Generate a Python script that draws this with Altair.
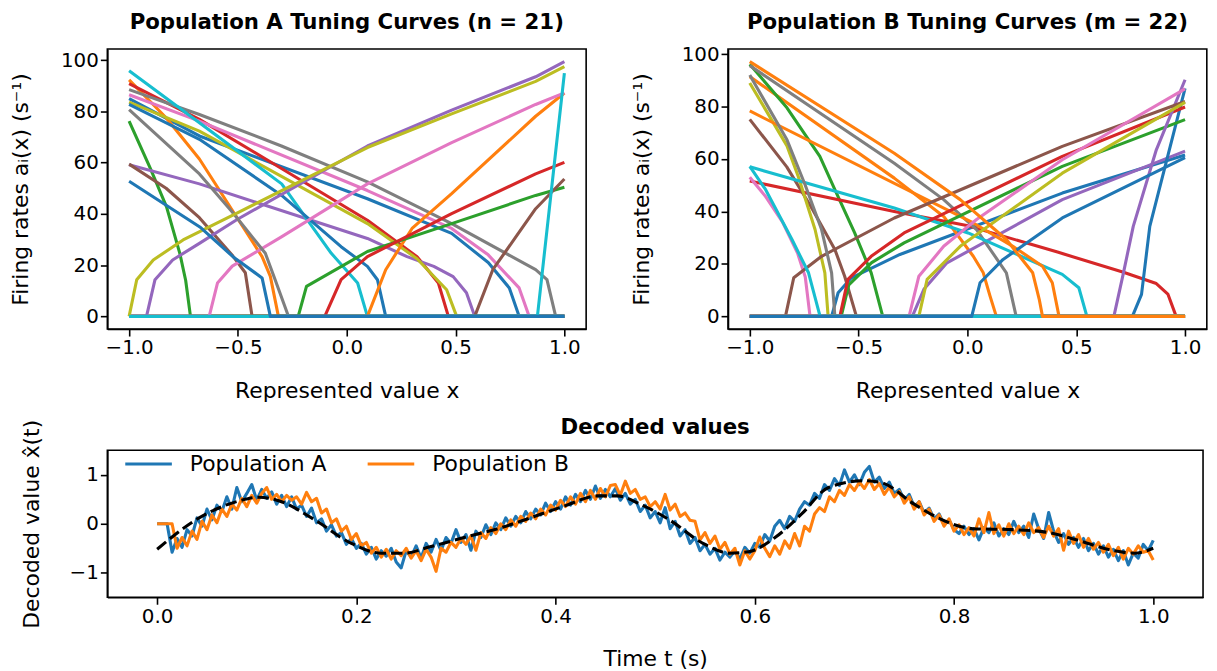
import altair as alt
import pandas as pd

TAB10 = ["#1f77b4", "#ff7f0e", "#2ca02c", "#d62728", "#9467bd",
         "#8c564b", "#e377c2", "#7f7f7f", "#bcbd22", "#17becf"]
FONT = "DejaVu Sans"
TICK_FS = 20
LABEL_FS = 22
TITLE_FS = 21.4

# ---------------- Population A tuning curves (drawing order = tab10 cycle) ----
A00 = [(-1, 85.0), (-0.677, 70.4), (0.095, 45.9), (0.482, 32.4), (0.65, 21.0), (0.747, 11.1), (0.792, 0), (1, 0)]
A01 = [(-1, 92.3), (-0.83, 77.5), (-0.677, 61.4), (-0.526, 41.4), (-0.389, 23.3), (-0.351, 15.6), (-0.314, 0), (1, 0)]
A02 = [(-1, 76.2), (-0.904, 58.0), (-0.828, 42.7), (-0.767, 24.6), (-0.74, 14.0), (-0.718, 0), (1, 0)]
A03 = [(-1, 90.8), (-0.677, 76.9), (-0.3, 57.7), (0.095, 37.5), (0.323, 23.3), (0.421, 13.0), (0.467, 0), (1, 0)]
A04 = [(-1, 59.2), (-0.677, 51.7), (0.095, 30.4), (0.277, 23.3), (0.4, 19.5), (0.489, 15.5), (0.55, 9.2), (0.588, 0), (1, 0)]
A05 = [(-1, 59.4), (-0.83, 50.0), (-0.677, 38.5), (-0.523, 23.5), (-0.466, 17.0), (-0.435, 0), (1, 0)]
A06 = [(-1, 86.5), (-0.677, 76.2), (0.095, 49.1), (0.482, 34.3), (0.65, 24.0), (0.792, 11.1), (0.838, 0), (1, 0)]
A07 = [(-1, 88.5), (-0.677, 78.8), (-0.3, 66.5), (0.095, 52.5), (0.482, 36.2), (0.868, 18.2), (0.92, 14.3), (0.96, 0), (1, 0)]
A08 = [(-1, 83.6), (-0.677, 72.3), (0.095, 36.2), (0.323, 22.5), (0.459, 10.4), (0.505, 0), (1, 0)]
A09 = [(-1, 95.9), (-0.677, 75.6), (-0.299, 51.7), (-0.071, 24.6), (0.05, 13.0), (0.095, 0), (1, 0)]
A10 = [(-1, 82.7), (-0.677, 69.1), (-0.299, 47.2), (-0.026, 27.2), (0.095, 19.5), (0.141, 14.3), (0.179, 0), (1, 0)]
A11 = [(-1, 0), (0.095, 0), (0.179, 18.2), (0.3, 34.3), (0.482, 47.9), (0.868, 78.1), (1, 87.2)]
A12 = [(-1, 0), (-0.223, 0), (-0.185, 11.7), (0.095, 25.3), (0.482, 36.2), (0.868, 47.2), (1, 50.4)]
A13 = [(-1, 0), (-0.101, 0), (-0.026, 14.3), (0.095, 23.3), (0.482, 40.1), (0.868, 55.6), (1, 60.1)]
A14 = [(-1, 0), (-0.92, 0), (-0.881, 14.3), (-0.8, 22.0), (-0.677, 28.5), (-0.5, 38.0), (0.095, 66.5), (0.482, 80.5), (0.868, 93.5), (1, 99.4)]
A15 = [(-1, 0), (0.588, 0), (0.671, 18.2), (0.777, 31.0), (0.868, 42.0), (1, 53.6)]
A16 = [(-1, 0), (-0.632, 0), (-0.594, 13.0), (-0.526, 19.6), (-0.3, 31.0), (0.095, 51.7), (0.482, 67.8), (0.868, 82.7), (1, 87.2)]
A17 = [(-1, 80.7), (-0.677, 55.6), (-0.526, 40.7), (-0.374, 24.6), (-0.329, 14.3), (-0.268, 0), (1, 0)]
A18 = [(-1, 0), (-0.965, 14.3), (-0.889, 22.0), (-0.752, 29.8), (-0.5, 40.5), (0.095, 65.9), (0.482, 79.0), (0.868, 91.7), (1, 97.5)]
A19 = [(-1, 0), (0.876, 0), (1, 94.9)]
A20 = [(-1, 52.7), (-0.675, 34.9), (-0.523, 23.3), (-0.389, 15.0), (-0.351, 0), (1, 0)]
POP_A = [A00, A01, A02, A03, A04, A05, A06, A07, A08, A09, A10,
         A11, A12, A13, A14, A15, A16, A17, A18, A19, A20]

# ---------------- Population B tuning curves ----------------
B00 = [(-1, 0), (-0.624, 0), (-0.594, 9.0), (-0.533, 14.7), (-0.31, 23.6), (0.436, 47.0), (1, 61.5)]
B01 = [(-1, 91.4), (-0.336, 52.7), (-0.109, 38.1), (0.027, 22.9), (0.073, 16.6), (0.103, 8.0), (0.133, 0), (1, 0)]
B02 = [(-1, 96.1), (-0.829, 79.5), (-0.678, 61.0), (-0.609, 48.3), (-0.518, 31.8), (-0.442, 16.6), (-0.389, 0), (1, 0)]
B03 = [(-1, 51.6), (-0.336, 40.0), (0.003, 34.5), (0.414, 24.5), (0.717, 16.8), (0.868, 12.5), (0.921, 8.5), (0.959, 0), (1, 0)]
B04 = [(-1, 0), (-0.253, 0), (-0.2, 10.3), (-0.094, 20.4), (0.436, 44.5), (1, 63.0)]
B05 = [(-1, 75.1), (-0.83, 57.0), (-0.72, 42.0), (-0.609, 25.5), (-0.564, 15.3), (-0.51, 0), (1, 0)]
B06 = [(-1, 53.0), (-0.93, 46.0), (-0.85, 36.0), (-0.78, 24.0), (-0.745, 15.0), (-0.723, 0), (1, 0)]
B07 = [(-1, 95.6), (-0.336, 58.4), (-0.109, 44.5), (0.042, 33.1), (0.179, 16.6), (0.224, 0), (1, 0)]
B08 = [(-1, 89.0), (-0.829, 65.0), (-0.776, 53.0), (-0.7, 33.1), (-0.655, 16.6), (-0.64, 0), (1, 0)]
B09 = [(-1, 57.0), (-0.336, 41.3), (0.003, 31.8), (0.436, 16.0), (0.512, 10.9), (0.549, 0), (1, 0)]
B10 = [(-1, 0), (0.758, 0), (0.8, 8.4), (0.838, 34.3), (1, 86.9)]
B11 = [(-1, 78.3), (0.027, 35.6), (0.209, 26.7), (0.345, 19.1), (0.39, 12.8), (0.421, 0), (1, 0)]
B12 = [(-1, 0), (-0.58, 0), (-0.545, 12.0), (-0.44, 20.5), (-0.291, 28.0), (0.436, 57.2), (1, 75.0)]
B13 = [(-1, 0), (-0.586, 0), (-0.549, 14.1), (-0.442, 22.9), (-0.291, 31.8), (0.436, 61.0), (1, 79.8)]
B14 = [(-1, 0), (0.673, 0), (0.717, 16.6), (0.762, 34.3), (0.868, 63.5), (1, 90.2)]
B15 = [(-1, 0), (-0.836, 0), (-0.798, 14.7), (-0.67, 22.9), (-0.336, 37.5), (0.436, 64.8), (1, 81.9)]
B16 = [(-1, 0), (-0.268, 0), (-0.223, 15.3), (-0.109, 26.7), (0.042, 36.9), (0.436, 59.7), (1, 86.7)]
B17 = [(-1, 92.0), (-0.829, 67.3), (-0.745, 50.0), (-0.67, 33.1), (-0.624, 16.6), (-0.609, 0), (1, 0)]
B18 = [(-1, 0), (-0.223, 0), (-0.185, 14.1), (-0.033, 26.7), (0.436, 54.6), (1, 81.6)]
B19 = [(-1, 57.2), (-0.927, 48.3), (-0.806, 29.3), (-0.73, 16.6), (-0.677, 0), (1, 0)]
B20 = [(-1, 0), (0.02, 0), (0.058, 12.8), (0.164, 21.7), (0.436, 37.5), (1, 60.5)]
B21 = [(-1, 97.1), (-0.336, 62.2), (-0.033, 44.5), (0.179, 29.3), (0.3, 16.6), (0.33, 6.5), (0.345, 0), (1, 0)]
POP_B = [B00, B01, B02, B03, B04, B05, B06, B07, B08, B09, B10,
         B11, B12, B13, B14, B15, B16, B17, B18, B19, B20, B21]

# ---------------- Decoded values ----------------
T_STEP = 0.005
DEC_A = [0, 0, 0, -0.58, -0.30, -0.48, -0.12, -0.25, 0.12, -0.05,
         0.30, 0.08, 0.38, 0.25, 0.55, 0.30, 0.74, 0.45, 0.62, 0.80,
         0.48, 0.70, 0.52, 0.65, 0.40, 0.58, 0.35, 0.55, 0.30, 0.38,
         0.15, 0.32, 0.02, 0.10, -0.15, -0.02, -0.25, -0.18, -0.42, -0.30,
         -0.50, -0.40, -0.62, -0.48, -0.72, -0.55, -0.66, -0.50, -0.78, -0.90,
         -0.55, -0.68, -0.45, -0.70, -0.40, -0.58, -0.32, -0.55, -0.28, -0.40,
         -0.12, -0.38, -0.22, -0.54, -0.15, -0.28, -0.02, -0.22, 0.02, -0.12,
         0.12, -0.05, 0.15, 0.02, 0.25, 0.10, 0.30, 0.18, 0.42, 0.25,
         0.45, 0.30, 0.55, 0.38, 0.60, 0.45, 0.68, 0.50, 0.77, 0.52,
         0.70, 0.55, 0.72, 0.48, 0.62, 0.40, 0.50, 0.25, 0.38, 0.12,
         0.25, 0.02, 0.33, -0.10, 0.05, -0.25, -0.12, -0.40, -0.28, -0.55,
         -0.42, -0.62, -0.50, -0.74, -0.58, -0.68, -0.55, -0.72, -0.48, -0.60,
         -0.40, -0.48, -0.22, -0.35, -0.05, 0.07, -0.10, 0.15, 0.05, 0.30,
         0.45, 0.38, 0.62, 0.52, 0.80, 0.68, 0.92, 0.78, 1.10, 0.85,
         1.00, 0.80, 1.05, 1.17, 0.85, 0.95, 0.72, 0.85, 0.62, 0.70,
         0.48, 0.60, 0.35, 0.45, 0.22, 0.32, 0.10, 0.20, -0.02, 0.08,
         -0.12, -0.20, -0.05, -0.22, -0.10, -0.33, -0.08, -0.18, 0.02, -0.25,
         -0.10, -0.22, 0.05, -0.18, -0.05, -0.28, 0.20, -0.10, -0.30, 0.23,
         -0.15, -0.38, -0.20, -0.42, -0.28, -0.48, -0.30, -0.55, -0.40, -0.62,
         -0.45, -0.68, -0.52, -0.75, -0.55, -0.84, -0.60, -0.70, -0.42, -0.55,
         -0.34]
DEC_B = [0, 0, 0, 0, -0.50, -0.28, -0.45, -0.15, -0.32, 0.05,
         -0.12, 0.18, 0.02, 0.30, 0.15, 0.40, 0.28, 0.52, 0.35, 0.58,
         0.42, 0.62, 0.74, 0.50, 0.60, 0.45, 0.58, 0.48, 0.55, 0.40,
         0.64, 0.45, 0.52, 0.22, 0.30, 0.02, 0.10, -0.15, -0.05, -0.32,
         -0.20, -0.45, -0.38, -0.60, -0.48, -0.68, -0.52, -0.72, -0.55, -0.65,
         -0.50, -0.70, -0.55, -0.75, -0.52, -0.68, -0.97, -0.50, -0.58, -0.38,
         -0.48, -0.30, -0.42, -0.25, -0.54, -0.18, -0.30, -0.08, -0.20, 0.00,
         -0.12, 0.08, -0.05, 0.15, 0.05, 0.22, 0.10, 0.30, 0.18, 0.38,
         0.28, 0.48, 0.35, 0.55, 0.40, 0.62, 0.45, 0.68, 0.50, 0.72,
         0.55, 0.78, 0.80, 0.58, 0.87, 0.62, 0.70, 0.50, 0.55, 0.35,
         0.45, 0.30, 0.60, 0.28, 0.40, 0.15, 0.22, 0.07, 0.05, -0.33,
         -0.18, -0.40, -0.25, -0.52, -0.38, -0.62, -0.50, -0.84, -0.55, -0.72,
         -0.55, -0.27, -0.50, -0.67, -0.45, -0.62, -0.35, -0.50, -0.20, -0.45,
         -0.05, -0.15, 0.20, 0.33, 0.25, 0.55, 0.45, 0.68, 0.58, 0.80,
         0.68, 0.85, 0.72, 0.90, 0.70, 0.82, 0.60, 0.75, 0.55, 0.66,
         0.42, 0.55, 0.30, 0.45, 0.18, 0.30, 0.05, 0.18, -0.05, 0.10,
         -0.15, -0.02, -0.22, -0.08, -0.25, 0.10, -0.18, 0.23, -0.20, -0.02,
         -0.25, 0.00, -0.20, -0.05, -0.22, 0.02, -0.18, -0.08, -0.28, -0.05,
         -0.25, -0.10, -0.54, -0.15, -0.40, -0.22, -0.48, -0.30, -0.52, -0.38,
         -0.58, -0.42, -0.65, -0.48, -0.72, -0.50, -0.62, -0.45, -0.58, -0.55,
         -0.74]
TARGET_T = [0.0, 0.043, 0.083, 0.102, 0.122, 0.159, 0.195, 0.225, 0.248, 0.274,
            0.31, 0.345, 0.376, 0.41, 0.442, 0.462, 0.485, 0.515, 0.548, 0.575,
            0.594, 0.621, 0.647, 0.674, 0.71, 0.727, 0.76, 0.786, 0.819, 0.859,
            0.892, 0.925, 0.958, 0.981, 1.0]
TARGET_X = [-0.52, 0.13, 0.47, 0.54, 0.47, 0.07, -0.40, -0.60, -0.60, -0.47,
            -0.27, -0.08, 0.13, 0.37, 0.57, 0.57, 0.40, 0.07, -0.40, -0.60,
            -0.57, -0.27, 0.20, 0.74, 0.88, 0.84, 0.40, 0.10, -0.10, -0.12,
            -0.17, -0.34, -0.54, -0.60, -0.50]
SERIES = ["Population A", "Population B"]

PANEL_W = 482
PANEL_H = 282


def curves_df(pop, prefix):
    rows = []
    for i, pts in enumerate(pop):
        for k, (x, y) in enumerate(pts):
            rows.append({"neuron": f"{prefix}{i:02d}", "k": k, "x": x, "y": y})
    return pd.DataFrame(rows)


def tuning_panel(pop, prefix, ymax, title, title_offset):
    df = curves_df(pop, prefix)
    ids = [f"{prefix}{i:02d}" for i in range(len(pop))]
    cols = [TAB10[i % 10] for i in range(len(pop))]
    return alt.Chart(df).mark_line(strokeWidth=3.1, strokeJoin="round").encode(
        x=alt.X("x:Q", scale=alt.Scale(domain=[-1.1, 1.1], nice=False, zero=False),
                axis=alt.Axis(values=[-1, -0.5, 0, 0.5, 1], format=".1f",
                              title="Represented value x", titlePadding=23)),
        y=alt.Y("y:Q", scale=alt.Scale(domain=[-0.05 * ymax, 1.05 * ymax], nice=False, zero=False),
                axis=alt.Axis(values=[0, 20, 40, 60, 80, 100], format="d",
                              title="Firing rates aᵢ(x) (s⁻¹)", titlePadding=28)),
        color=alt.Color("neuron:N", scale=alt.Scale(domain=ids, range=cols), legend=None),
        order="k:Q",
    ).properties(width=PANEL_W, height=PANEL_H,
                 title=alt.TitleParams(title, offset=title_offset))


left = tuning_panel(POP_A, "A", 99.4, "Population A Tuning Curves (n = 21)", 16)
right = tuning_panel(POP_B, "B", 97.1, "Population B Tuning Curves (m = 22)", 11)

dec_rows = []
for name, vals in zip(SERIES, [DEC_A, DEC_B]):
    for i, v in enumerate(vals):
        dec_rows.append({"series": name, "t": round(i * T_STEP, 4), "v": v})
dec_df = pd.DataFrame(dec_rows)
tgt_df = pd.DataFrame({"t": TARGET_T, "v": TARGET_X})

xb = alt.X("t:Q", scale=alt.Scale(domain=[-0.05, 1.05], nice=False, zero=False),
           axis=alt.Axis(values=[0, 0.2, 0.4, 0.6, 0.8, 1.0], format=".1f",
                         title="Time t (s)", titlePadding=23))
yb = alt.Y("v:Q", scale=alt.Scale(domain=[-1.5, 1.5], nice=False, zero=False),
           axis=alt.Axis(values=[-1, 0, 1], format="d", title="Decoded value x̂(t)",
                         titlePadding=25.5))

dec_lines = alt.Chart(dec_df).mark_line(strokeWidth=3.1, strokeJoin="round").encode(
    x=xb, y=yb,
    color=alt.Color("series:N", scale=alt.Scale(domain=SERIES, range=[TAB10[0], TAB10[1]]),
                    legend=alt.Legend(title=None, orient="none", legendX=16, legendY=-12,
                                      direction="horizontal", symbolType="stroke",
                                      symbolSize=2200, symbolStrokeWidth=3.1,
                                      labelFontSize=LABEL_FS, labelFont=FONT, labelColor="black",
                                      labelOffset=16, columnPadding=34)),
)
tgt_line = alt.Chart(tgt_df).mark_line(color="black", strokeWidth=3.1, strokeDash=[11.5, 5],
                                       interpolate="monotone").encode(x=xb, y=yb)
bottom = alt.layer(dec_lines, tgt_line).properties(
    width=1103, height=148, title=alt.TitleParams("Decoded values", offset=-19))

top = alt.hconcat(left, right, spacing=42.8).resolve_scale(color="independent")
chart = alt.vconcat(top, bottom, spacing=13).resolve_scale(color="independent").properties(
    padding={"left": 1, "top": 0, "right": 1, "bottom": 0}
).configure_view(
    stroke="black", strokeWidth=1.6
).configure_axis(
    labelFont=FONT, labelFontSize=TICK_FS, titleFont=FONT, titleFontSize=LABEL_FS,
    titleFontWeight="normal", labelColor="black", titleColor="black",
    tickColor="black", domainColor="black", domainWidth=1.6, tickWidth=1.6,
    tickSize=7, labelPadding=2, grid=False,
    labelFlush=False, labelOverlap=False,
).configure_title(
    font=FONT, fontSize=TITLE_FS, fontWeight="bold", color="black", anchor="middle"
)

chart.save("out.html", embed_options={"renderer": "svg", "actions": False})
